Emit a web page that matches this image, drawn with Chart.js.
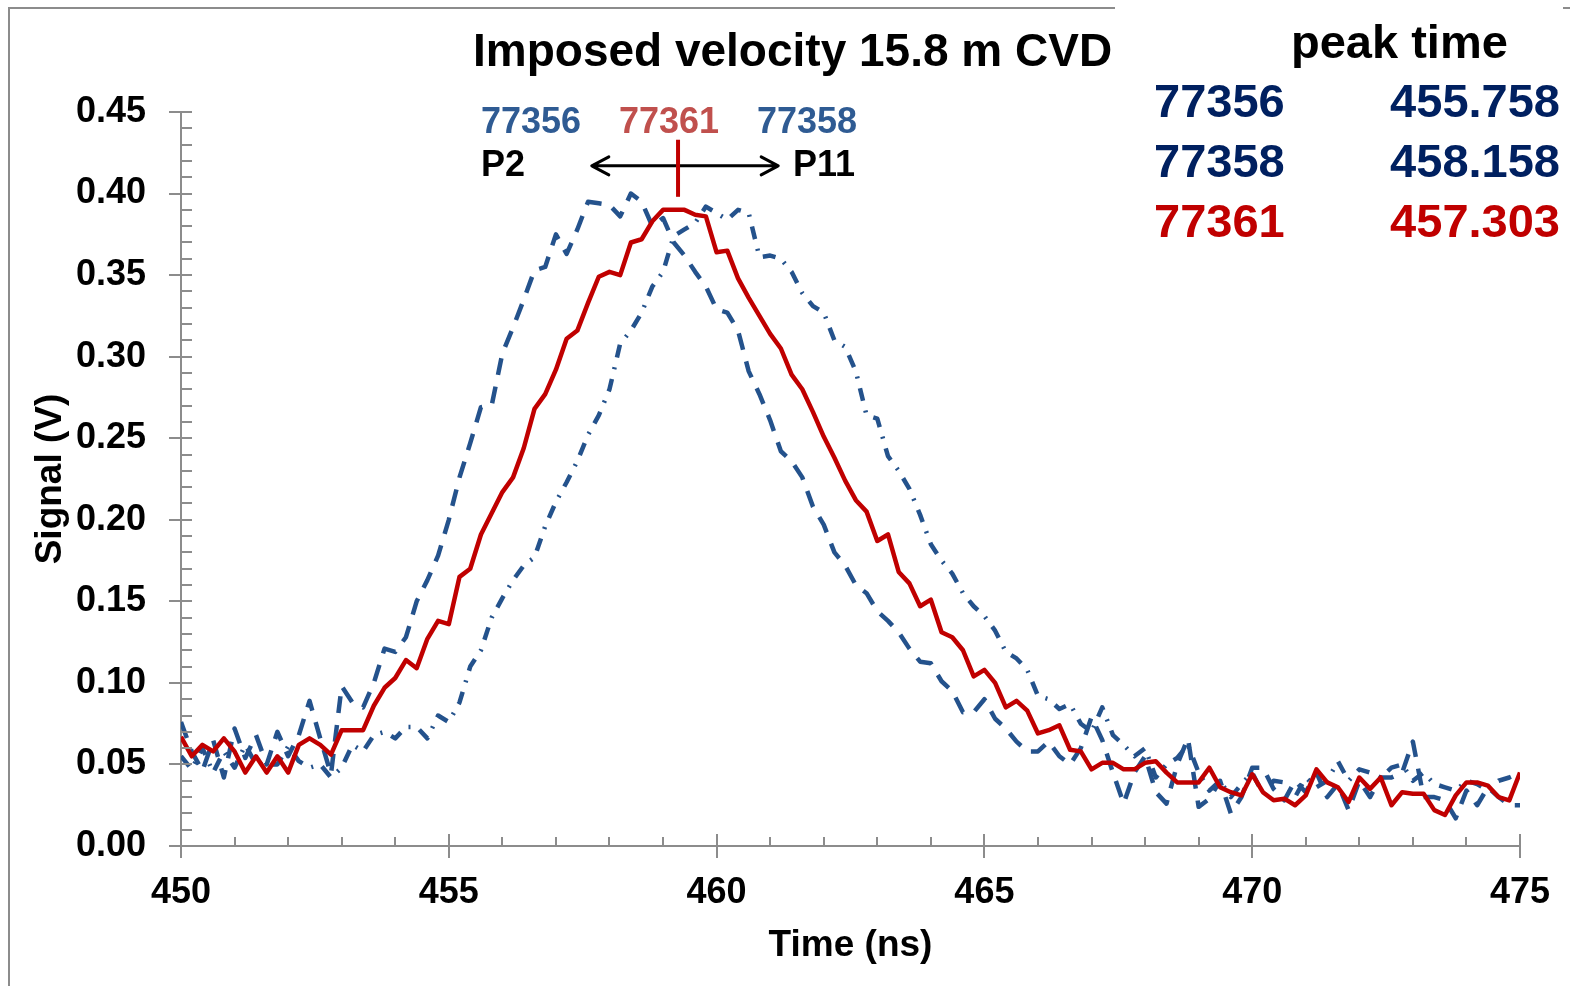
<!DOCTYPE html>
<html>
<head>
<meta charset="utf-8">
<title>Imposed velocity 15.8 m CVD</title>
<script src="https://cdn.jsdelivr.net/npm/chart.js@4.4.1/dist/chart.umd.min.js"></script>
<style>
    html, body { margin: 0; padding: 0; background: #fff; }
    #wrap { position: relative; width: 1570px; height: 986px; }
</style>
</head>
<body>
<div id="wrap"><canvas id="signalChart" width="1570" height="986"></canvas></div>
<script>
const FONT = "'Liberation Sans', Arial, Helvetica, sans-serif";
const AXIS_GREY = "#8c8c8c";
const BLUE = "#24528c";
const RED = "#c00000";
const TITLE = "Imposed velocity 15.8 m CVD";

// scope traces, one sample every 0.2 ns starting at 450 ns
const T_START = 450;
const T_STEP = 0.2;

// 77356 (P2, dashed)
const shot77356 = [
    0.076, 0.058, 0.046, 0.065, 0.042, 0.072, 0.054, 0.068, 0.050, 0.070,
    0.055, 0.068, 0.089, 0.066, 0.044, 0.098, 0.088, 0.085, 0.100, 0.121,
    0.119, 0.128, 0.150, 0.163, 0.178, 0.200, 0.226, 0.247, 0.269, 0.270,
    0.302, 0.318, 0.335, 0.353, 0.355, 0.375, 0.363, 0.378, 0.395, 0.394,
    0.393, 0.386, 0.400, 0.395, 0.380, 0.385, 0.370, 0.362, 0.352, 0.343,
    0.329, 0.327, 0.316, 0.291, 0.277, 0.261, 0.242, 0.236, 0.226, 0.208,
    0.197, 0.180, 0.172, 0.160, 0.155, 0.144, 0.138, 0.131, 0.121, 0.113,
    0.112, 0.101, 0.095, 0.082, 0.082, 0.090, 0.078, 0.072, 0.064, 0.058,
    0.058, 0.064, 0.055, 0.050, 0.060, 0.079, 0.065, 0.045, 0.026, 0.045,
    0.055, 0.033, 0.026, 0.050, 0.066, 0.024, 0.029, 0.040, 0.020, 0.030,
    0.048, 0.048, 0.035, 0.028, 0.040, 0.033, 0.045, 0.030, 0.038, 0.022,
    0.040, 0.030, 0.042, 0.042, 0.045, 0.064, 0.030, 0.030, 0.028, 0.017,
    0.034, 0.025, 0.036, 0.030, 0.025, 0.025
];

// 77358 (P11, dash-dot)
const shot77358 = [
    0.055, 0.047, 0.060, 0.045, 0.058, 0.048, 0.062, 0.050, 0.050, 0.050,
    0.061, 0.052, 0.048, 0.050, 0.042, 0.048, 0.062, 0.058, 0.068, 0.070,
    0.066, 0.073, 0.073, 0.066, 0.080, 0.076, 0.088, 0.110, 0.120, 0.140,
    0.152, 0.163, 0.172, 0.177, 0.196, 0.211, 0.223, 0.236, 0.252, 0.264,
    0.280, 0.308, 0.316, 0.327, 0.343, 0.352, 0.374, 0.378, 0.382, 0.392,
    0.388, 0.384, 0.390, 0.388, 0.361, 0.362, 0.360, 0.352, 0.339, 0.331,
    0.327, 0.310, 0.306, 0.291, 0.264, 0.262, 0.239, 0.230, 0.219, 0.203,
    0.185, 0.175, 0.167, 0.155, 0.147, 0.141, 0.132, 0.119, 0.115, 0.108,
    0.092, 0.090, 0.084, 0.087, 0.075, 0.070, 0.085, 0.068, 0.062, 0.055,
    0.060, 0.042, 0.050, 0.054, 0.062, 0.045, 0.034, 0.040, 0.030, 0.038,
    0.045, 0.032, 0.040, 0.039, 0.030, 0.042, 0.036, 0.040, 0.052, 0.040,
    0.047, 0.045, 0.042, 0.048, 0.050, 0.040, 0.045, 0.038, 0.036, 0.034,
    0.040, 0.038, 0.034, 0.040, 0.042, 0.045
];

// 77361 (red, solid)
const shot77361 = [
    0.067, 0.055, 0.062, 0.058, 0.066, 0.058, 0.045, 0.055, 0.045, 0.055,
    0.045, 0.062, 0.066, 0.062, 0.056, 0.071, 0.071, 0.071, 0.086, 0.097,
    0.103, 0.114, 0.109, 0.127, 0.138, 0.136, 0.165, 0.170, 0.191, 0.204,
    0.217, 0.226, 0.244, 0.268, 0.277, 0.292, 0.311, 0.316, 0.333, 0.349,
    0.352, 0.350, 0.370, 0.372, 0.383, 0.390, 0.390, 0.390, 0.387, 0.386,
    0.364, 0.365, 0.348, 0.336, 0.325, 0.314, 0.305, 0.289, 0.280, 0.266,
    0.251, 0.238, 0.224, 0.212, 0.205, 0.187, 0.191, 0.168, 0.161, 0.147,
    0.151, 0.131, 0.128, 0.120, 0.104, 0.108, 0.100, 0.085, 0.089, 0.083,
    0.069, 0.071, 0.074, 0.059, 0.058, 0.047, 0.051, 0.051, 0.047, 0.047,
    0.051, 0.052, 0.045, 0.039, 0.039, 0.039, 0.048, 0.036, 0.033, 0.031,
    0.044, 0.033, 0.028, 0.029, 0.025, 0.031, 0.047, 0.039, 0.036, 0.027,
    0.042, 0.035, 0.042, 0.025, 0.033, 0.032, 0.032, 0.022, 0.019, 0.031,
    0.039, 0.039, 0.037, 0.030, 0.028, 0.045
];

const xTicks = [450, 455, 460, 465, 470, 475];
const yTicks = [0, 0.05, 0.10, 0.15, 0.20, 0.25, 0.30, 0.35, 0.40, 0.45];

// peak time table (top right)
const peakShots = ["77356", "77358", "77361"];
const peakTimes = ["455.758", "458.158", "457.303"];
const peakColors = ["#002060", "#002060", RED];

function toPoints(values) {
    return values.map((v, i) => ({ x: +(T_START + i * T_STEP).toFixed(1), y: v }));
}

// Gray outer frame, drawn before everything else
const framePlugin = {
    id: "frame",
    beforeDraw(chart) {
        const ctx = chart.ctx;
        ctx.save();
        ctx.fillStyle = "#fff";
        ctx.fillRect(0, 0, chart.width, chart.height);
        ctx.strokeStyle = AXIS_GREY;
        ctx.lineWidth = 2;
        ctx.beginPath();
        ctx.moveTo(9, 986);
        ctx.lineTo(9, 8);
        ctx.lineTo(1115, 8);
        ctx.moveTo(1563, 8);
        ctx.lineTo(1570, 8);
        ctx.stroke();
        ctx.restore();
    }
};

// Excel style tick marks: major ticks cross the axis, minor ticks inside
const tickPlugin = {
    id: "axisTicks",
    afterDatasetsDraw(chart) {
        const { ctx, scales: { x, y } } = chart;
        const ax = Math.round(x.getPixelForValue(450));
        const ay = Math.round(y.getPixelForValue(0));
        ctx.save();
        ctx.strokeStyle = AXIS_GREY;
        ctx.lineWidth = 2;
        ctx.beginPath();
        for (let k = 0; k <= 45; k++) {
            const py = Math.round(y.getPixelForValue(k / 100));
            const major = k % 5 === 0;
            ctx.moveTo(major ? ax - 12 : ax, py);
            ctx.lineTo(ax + 11, py);
        }
        for (let t = 450; t <= 475; t++) {
            const px = Math.round(x.getPixelForValue(t));
            const major = t % 5 === 0;
            ctx.moveTo(px, ay - (major ? 12 : 9));
            ctx.lineTo(px, ay + (major ? 12 : 0));
        }
        ctx.stroke();
        ctx.restore();
    }
};

// Title, shot labels, arrow, red marker and the peak time table
const notesPlugin = {
    id: "notes",
    afterDraw(chart) {
        const { ctx, scales: { x, y } } = chart;
        ctx.save();

        ctx.textBaseline = "alphabetic";
        ctx.textAlign = "left";
        ctx.fillStyle = "#000";
        ctx.font = "bold 46px " + FONT;
        ctx.fillText(TITLE, 473, 66);

        ctx.font = "bold 36px " + FONT;
        ctx.fillStyle = "#2f5b93";
        ctx.fillText("77356", 481, 133);
        ctx.fillText("77358", 757, 133);
        ctx.fillStyle = "#c0504d";
        ctx.fillText("77361", 619, 133);
        ctx.fillStyle = "#000";
        ctx.fillText("P2", 481, 176);
        ctx.fillText("P11", 793, 176);

        // double arrow P2 <-> P11
        const x1 = x.getPixelForValue(457.67);
        const x2 = x.getPixelForValue(461.15);
        const ya = y.getPixelForValue(0.417);
        ctx.strokeStyle = "#000";
        ctx.lineWidth = 3;
        ctx.lineCap = "round";
        ctx.lineJoin = "round";
        ctx.beginPath();
        ctx.moveTo(x1, ya);
        ctx.lineTo(x2, ya);
        ctx.moveTo(x1 + 17, ya - 9);
        ctx.lineTo(x1, ya);
        ctx.lineTo(x1 + 17, ya + 9);
        ctx.moveTo(x2 - 17, ya - 9);
        ctx.lineTo(x2, ya);
        ctx.lineTo(x2 - 17, ya + 9);
        ctx.stroke();

        // red marker at the 77361 peak
        const xm = x.getPixelForValue(459.28);
        ctx.strokeStyle = RED;
        ctx.lineWidth = 4;
        ctx.lineCap = "butt";
        ctx.beginPath();
        ctx.moveTo(xm, y.getPixelForValue(0.433));
        ctx.lineTo(xm, y.getPixelForValue(0.398));
        ctx.stroke();

        // peak time table
        ctx.fillStyle = "#000";
        ctx.font = "bold 47px " + FONT;
        ctx.fillText("peak time", 1291, 58);
        peakShots.forEach((shot, i) => {
            const base = 117 + i * 60;
            ctx.fillStyle = peakColors[i];
            ctx.textAlign = "left";
            ctx.fillText(shot, 1154, base);
            ctx.textAlign = "right";
            ctx.fillText(peakTimes[i], 1560, base);
        });

        ctx.restore();
    }
};

const ctx = document.getElementById("signalChart").getContext("2d");

new Chart(ctx, {
    type: "line",
    data: {
        datasets: [
            {
                label: "77361",
                data: toPoints(shot77361),
                borderColor: RED,
                borderWidth: 4.5,
                order: 0
            },
            {
                label: "77356",
                data: toPoints(shot77356),
                borderColor: BLUE,
                borderWidth: 4.5,
                borderDash: [17, 12],
                order: 1
            },
            {
                label: "77358",
                data: toPoints(shot77358),
                borderColor: BLUE,
                borderWidth: 4.5,
                borderDash: [13, 10, 2, 10],
                order: 2
            }
        ]
    },
    options: {
        responsive: false,
        devicePixelRatio: 1,
        animation: false,
        elements: {
            point: { radius: 0 },
            line: { tension: 0, fill: false, borderJoinStyle: "round" }
        },
        layout: { padding: { left: 0, right: 50, top: 112, bottom: 0 } },
        plugins: {
            legend: { display: false },
            tooltip: { enabled: false },
            title: { display: false, text: TITLE }
        },
        scales: {
            x: {
                type: "linear",
                min: 450,
                max: 475,
                afterFit(scale) {
                    scale.height = 140;
                    scale.paddingLeft = 0;
                    scale.paddingRight = 0;
                },
                afterBuildTicks(scale) { scale.ticks = xTicks.map(v => ({ value: v })); },
                grid: { display: false, drawTicks: false },
                border: { display: true, color: AXIS_GREY, width: 2 },
                ticks: {
                    color: "#000",
                    padding: 25,
                    maxRotation: 0,
                    font: { family: FONT, size: 36, weight: "bold" },
                    callback: v => v.toFixed(0)
                },
                title: {
                    display: true,
                    text: "Time (ns)",
                    color: "#000",
                    font: { family: FONT, size: 37, weight: "bold" },
                    padding: { top: 0, bottom: 18 }
                }
            },
            y: {
                min: 0,
                max: 0.45,
                afterFit(scale) { scale.width = 181; },
                afterBuildTicks(scale) { scale.ticks = yTicks.map(v => ({ value: v })); },
                grid: { display: false, drawTicks: false },
                border: { display: true, color: AXIS_GREY, width: 2 },
                ticks: {
                    color: "#000",
                    padding: 35,
                    font: { family: FONT, size: 36, weight: "bold" },
                    callback: v => v.toFixed(2)
                },
                title: {
                    display: true,
                    text: "Signal (V)",
                    color: "#000",
                    font: { family: FONT, size: 37, weight: "bold" },
                    padding: { top: 29, bottom: 0 }
                }
            }
        }
    },
    plugins: [framePlugin, tickPlugin, notesPlugin]
});
</script>
</body>
</html>
